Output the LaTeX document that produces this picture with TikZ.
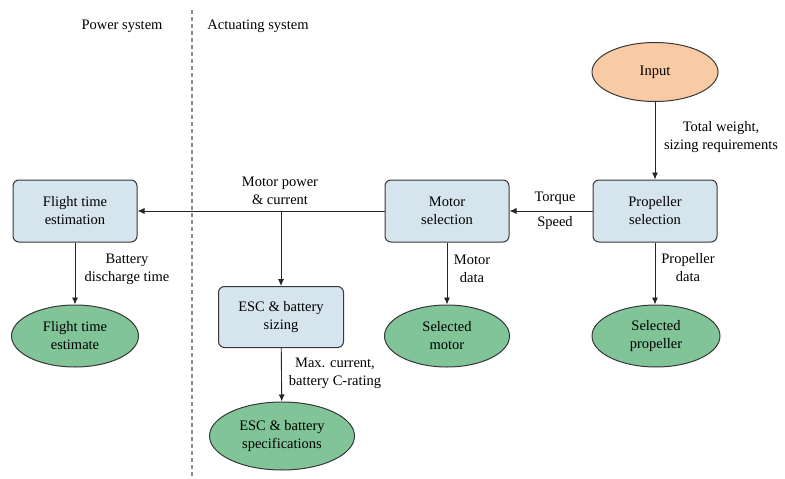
\documentclass[tikz,border=0pt]{standalone}
\usepackage{fontspec}
\setmainfont{Liberation Serif}
\usetikzlibrary{shapes.geometric,arrows.meta}
\definecolor{boxfill}{RGB}{214,228,238}
\definecolor{outfill}{RGB}{128,196,152}
\definecolor{infill}{RGB}{249,203,164}
\definecolor{edge}{RGB}{55,55,55}
\definecolor{divider}{RGB}{140,140,140}
\begin{document}
\begin{tikzpicture}[x=1pt,y=-1pt,
  every node/.style={font=\fontsize{14.5}{18}\selectfont, text=black, align=center},
  stepbox/.style={draw=edge, line width=1pt, fill=boxfill, rounded corners=6pt,
    minimum width=124pt, minimum height=62pt, inner sep=0pt},
  result/.style={draw=edge, line width=1pt, fill=outfill, ellipse,
    minimum width=127pt, minimum height=62pt, inner sep=0pt},
  source/.style={draw=edge, line width=1pt, fill=infill, ellipse,
    minimum width=126pt, minimum height=59pt, inner sep=0pt},
  flow/.style={draw=black!85, line width=0.9pt, -{Latex[length=7pt,width=6pt]}},
  tag/.style={inner sep=0pt}]
\useasboundingbox (0,0) rectangle (785,479);

% divider between the two subsystems
\coordinate (dtop) at (192,10);
\coordinate (dbot) at (192,476);
\draw[divider, line width=1.1pt, dash pattern=on 4pt off 3pt] (dtop) -- (dbot);
\node[tag] (powerlbl) at (122,26) {Power system};
\node[tag] (actlbl) at (258,26) {Actuating system};

% nodes
\node[source] (input) at (655,72) {Input};
\node[stepbox] (prop) at (655,211) {Propeller\\selection};
\node[stepbox] (motor) at (447,211) {Motor\\selection};
\node[stepbox] (flight) at (75,211) {Flight time\\estimation};
\node[stepbox, minimum width=125pt, minimum height=61pt] (esc) at (281,317) {ESC \& battery\\sizing};
\node[result] (flightest) at (75,336) {Flight time\\estimate};
\node[result, minimum width=125pt] (selmotor) at (447,336) {Selected\\motor};
\node[result, minimum width=128pt] (selprop) at (656,336) {Selected\\propeller};
\node[result, minimum width=145pt, minimum height=68pt] (escspec) at (282,436) {ESC \& battery\\specifications};

% connectors
\draw[flow] (input) -- (prop);
\draw[flow] (prop) -- (motor);
\draw[flow] (motor) -- (flight);
\coordinate (split) at (esc.north |- motor.west);
\draw[flow] (split) -- (esc);
\draw[flow] (flight) -- (flightest);
\draw[flow] (motor) -- (selmotor);
\draw[flow] (prop.south) -- (prop.south |- selprop.north);
\draw[flow] (esc) -- (escspec);

% connector labels
\node[tag] (lblweight) at (721,137) {Total weight,\\sizing requirements};
\node[tag] (lbltorque) at (555,198) {Torque};
\node[tag] (lblspeed) at (555,223) {Speed};
\node[tag] (lblpower) at (280,191) {Motor power\\\& current};
\node[tag] (lblbatt) at (127,269) {Battery\\discharge time};
\node[tag] (lblmotor) at (472,269) {Motor\\data};
\node[tag] (lblprop) at (688,268) {Propeller\\data};
\node[tag] (lblmax) at (335,373) {Max. current,\\battery C-rating};
\end{tikzpicture}
\end{document}
